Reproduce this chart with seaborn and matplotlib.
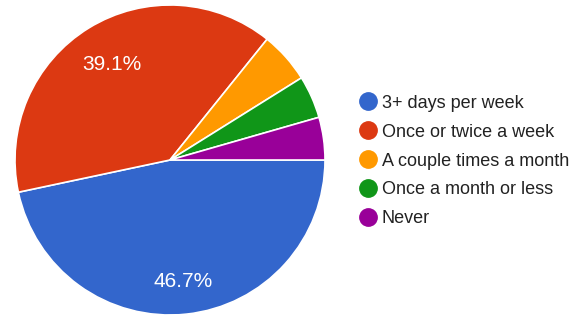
import numpy as np
import matplotlib
matplotlib.use("Agg")
import matplotlib.pyplot as plt
import seaborn as sns
from matplotlib.lines import Line2D

# ── Data ─────────────────────────────────────────────────────────────────────
categories = [
    "3+ days per week",
    "Once or twice a week",
    "A couple times a month",
    "Once a month or less",
    "Never",
]
counts = [105, 88, 12, 10, 10]
colors = ["#3366cc", "#dc3912", "#ff9900", "#109618", "#990099"]

sns.set_style("white")
plt.rcParams["font.family"] = ["Liberation Sans", "DejaVu Sans"]

W, H = 579, 315
fig = plt.figure(figsize=(W / 100, H / 100), dpi=100)

# pie centre (170, 160) px, radius 155 px
cx, cy, r = 170, 160, 155
ax = fig.add_axes([(cx - r) / W, (H - cy - r) / H, 2 * r / W, 2 * r / H])

wedges, _ = ax.pie(
    counts, colors=colors, startangle=0, counterclock=False,
    radius=1, wedgeprops=dict(edgecolor="white", linewidth=1.2),
)
ax.set_xlim(-1, 1)
ax.set_ylim(-1, 1)
ax.set_aspect("auto")
ax.axis("off")

# percentage labels on the two big slices
total = sum(counts)
label_dist = {0: 0.79, 1: 0.72}
for i, w in enumerate(wedges):
    if i not in label_dist:
        continue
    mid = np.deg2rad((w.theta1 + w.theta2) / 2)
    d = label_dist[i]
    ax.text(d * np.cos(mid), d * np.sin(mid), f"{100 * counts[i] / total:.1f}%",
            color="white", fontsize=15, ha="center", va="center")

handles = [
    Line2D([], [], marker="o", linestyle="", markersize=12.5,
           markerfacecolor=c, markeredgecolor=c)
    for c in colors
]
fig.legend(
    handles, categories, loc="center left",
    bbox_to_anchor=(350 / W, (H - 161) / H),
    frameon=False, fontsize=13, handletextpad=0.15,
    labelspacing=0.66, handlelength=1.2, borderaxespad=0,
    labelcolor="#222222",
)

fig.savefig("out.png", dpi=100)
